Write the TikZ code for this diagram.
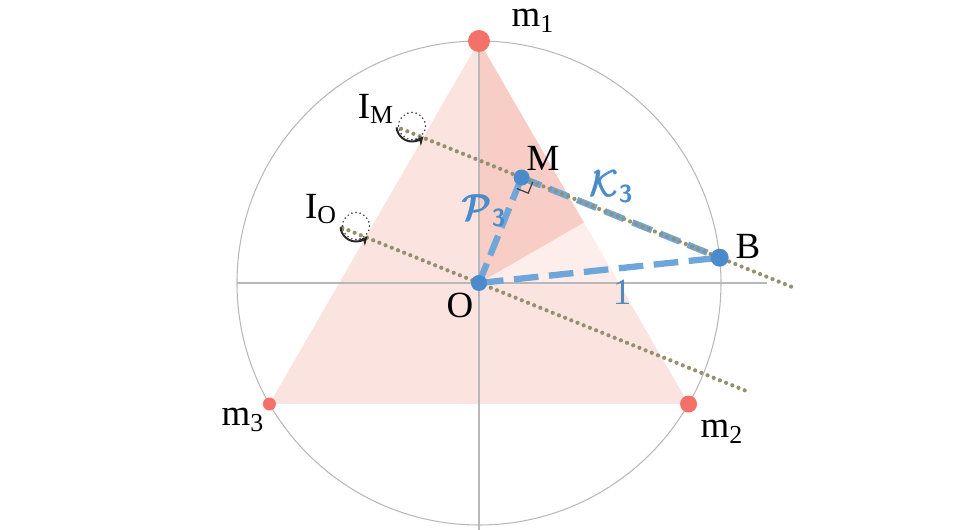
\documentclass[tikz,border=0pt]{standalone}
\usepackage{amsmath}
\usepackage{fontspec}
\setmainfont{Liberation Serif}
\usetikzlibrary{arrows.meta,calc}
\definecolor{trifill}{HTML}{FBE3DF}
\definecolor{wedgedark}{HTML}{F7CDC6}
\definecolor{wedgelight}{HTML}{FDEEEC}
\definecolor{dotred}{HTML}{F4716A}
\definecolor{lineblue}{HTML}{6FA6DA}
\definecolor{dotblue}{HTML}{4B8BCB}
\definecolor{olive}{HTML}{959170}
\definecolor{axisgray}{HTML}{B8B8B8}
\begin{document}
\begin{tikzpicture}[thick,
            red dot/.style={circle,fill=dotred,inner sep=0pt},
            blue dot/.style={circle,fill=dotblue,inner sep=0pt,minimum size=0.32cm},
            big text/.style={font=\fontsize{21}{24}\selectfont},
            blue text/.style={text=dotblue,font=\fontsize{20}{24}\selectfont\bfseries},
            axis line/.style={draw=axisgray,line width=0.6pt},
            trace line/.style={draw=olive,line width=2.4pt,line cap=round,dash pattern=on 0pt off 3.8pt},
            blue dash/.style={draw=lineblue,line width=3.6pt,dash pattern=on 12pt off 5pt},
            turn arrow/.style={draw=black!85,line width=1.1pt,-{Stealth[length=5pt,width=5pt]}},
            turn circle/.style={draw=black!70,line width=1.1pt,line cap=round,dash pattern=on 0pt off 2.4pt}]
        \useasboundingbox (-9.58,-4.94) rectangle (9.6,5.66);

        % Define vertices
        \coordinate (O) at (0,0);
        \coordinate (m1) at (90:4.84);
        \coordinate (m2) at (-30:4.84);
        \coordinate (m3) at (210:4.84);
        \coordinate (h12) at ($(m1)!0.5!(m2)$);
        \coordinate (h0) at (2.794,0);
        \coordinate (M) at (68:2.275);
        \coordinate (B) at (6:4.84);
        \coordinate (IM) at (-1.34,3.14);
        \coordinate (IO) at (-2.46,1.14);
        \coordinate (IMstart) at ($(M)!-2.6cm!(B)$);
        \coordinate (IMend) at ($(M)!5.92cm!(B)$);
        \coordinate (IOstart) at (158:2.95);
        \coordinate (IOend) at (-22:5.74);

        % Triangle and wedges
        \fill[trifill] (m1) -- (m2) -- (m3) -- cycle;
        \fill[wedgelight] (O) -- (h12) -- (h0) -- cycle;
        \fill[wedgedark] (O) -- (m1) -- (h12) -- cycle;

        % Axes and circle
        \draw[axis line] (-4.84,0) -- (5.76,0);
        \draw[axis line] (0,4.84) -- (0,-5.0);
        \draw[axis line] (O) circle (4.84);

        % Draw edges
        \draw[blue dash] (O) -- (M);
        \draw[blue dash,dash pattern=on 14pt off 6pt] (O) -- (B);
        \draw[blue dash] (M) -- (B);
        \draw[trace line] (IMstart) -- (IMend);
        \draw[trace line] (IOstart) -- (IOend);
        \draw[black!75,line width=0.7pt]
            ($(M)!0.24cm!(O)$) -- ($(M)!0.24cm!(O)!0.24cm!90:(O)$) -- ($(M)!0.24cm!(B)$);

        % Rotations
        \draw[turn circle] (IM) circle (0.27);
        \draw[turn arrow] ([shift={(185:0.31)}]IM) arc[start angle=185,end angle=318,radius=0.31];
        \draw[turn circle] (IO) circle (0.27);
        \draw[turn arrow] ([shift={(185:0.31)}]IO) arc[start angle=185,end angle=318,radius=0.31];

        % Dots
        \node[red dot,minimum size=0.44cm] (n1) at (m1) {};
        \node[red dot,minimum size=0.34cm] (n2) at (m2) {};
        \node[red dot,minimum size=0.26cm] (n3) at (m3) {};
        \node[blue dot] (nO) at (O) {};
        \node[blue dot] (nM) at (M) {};
        \node[blue dot,minimum size=0.36cm] (nB) at (B) {};

        % Labels
        \node[big text] (l1) at (1.08,5.24) {m\textsubscript{1}};
        \node[big text] (l2) at (4.86,-2.98) {m\textsubscript{2}};
        \node[big text] (l3) at (-4.72,-2.74) {m\textsubscript{3}};
        \node[big text] (lM) at (1.28,2.5) {M};
        \node[big text] (lB) at (5.38,0.74) {B};
        \node[big text] (lO) at (-0.38,-0.44) {O};
        \node[big text] (lIM) at (-2.06,3.48) {I\textsubscript{M}};
        \node[big text] (lIO) at (-3.16,1.48) {I\textsubscript{O}};
        \node[blue text] (lP) at (0.12,1.44) {$\pmb{\mathcal{P}}_{\textsf{\textbf{3}}}$};
        \node[blue text] (lK) at (2.66,1.92) {$\pmb{\mathcal{K}}_{\textsf{\textbf{3}}}$};
        \node[big text,text=dotblue!80!gray] (l1b) at (2.86,-0.18) {1};
\end{tikzpicture}
\end{document}
